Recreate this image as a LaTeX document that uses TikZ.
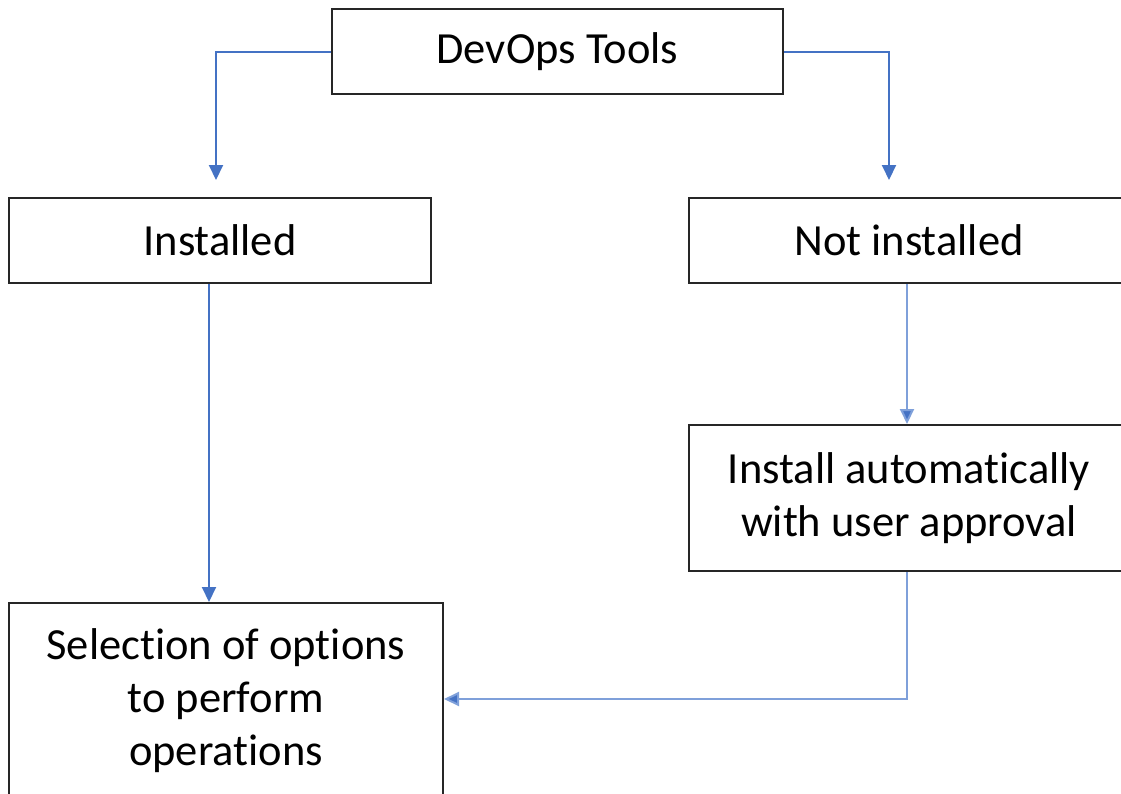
\documentclass[tikz,border=0pt]{standalone}
\usepackage{fontspec}
\setmainfont{Carlito}[Ligatures={NoCommon}]
\usetikzlibrary{arrows.meta}
\definecolor{linkblue}{HTML}{4472C4}
\definecolor{linklight}{HTML}{7FA0DA}
\tikzset{
  box/.style={draw=black!85, line width=2pt, rectangle, align=center,
    font=\fontsize{44.5}{53}\selectfont, inner sep=0pt},
  link/.style={draw=linkblue, line width=2pt,
    -{Triangle[width=14pt,length=15pt,fill=linkblue]}},
  softlink/.style={link, draw=linklight}
}
\begin{document}
\begin{tikzpicture}[x=1pt,y=-1pt]
\useasboundingbox (0,0) rectangle (1121,793);
\fill[white] (0,0) rectangle (1121,793);
\clip (0,0) rectangle (1121,793);

% boxes
\node[box, minimum width=451pt, minimum height=85pt] (tools) at (557.5,51.5) {DevOps Tools};
\node[box, minimum width=422pt, minimum height=85pt] (inst) at (220,240.5) {Installed};
\node[box, minimum width=440pt, minimum height=85pt] (notinst) at (909,240.5) {Not installed};
\node[box, minimum width=440pt, minimum height=146pt] (auto) at (909,498) {Install automatically\\with user approval};
\node[box, minimum width=434pt, minimum height=196pt] (sel) at (226,701) {Selection of options\\to perform\\operations};

% free ends above the second row
\coordinate (instin) at (216,180);
\coordinate (notin) at (889,180);

% connectors
\draw[link] (tools.west) -| (instin);
\draw[link] (tools.east) -| (notin);
\draw[link] ([xshift=-11pt]inst.south) -- ([xshift=-17pt]sel.north);
\draw[softlink] ([xshift=-2pt]notinst.south) -- ([xshift=-2pt]auto.north);
\draw[softlink] ([xshift=-2pt]auto.south) |- (sel.east |- 0,699);
\end{tikzpicture}
\end{document}
